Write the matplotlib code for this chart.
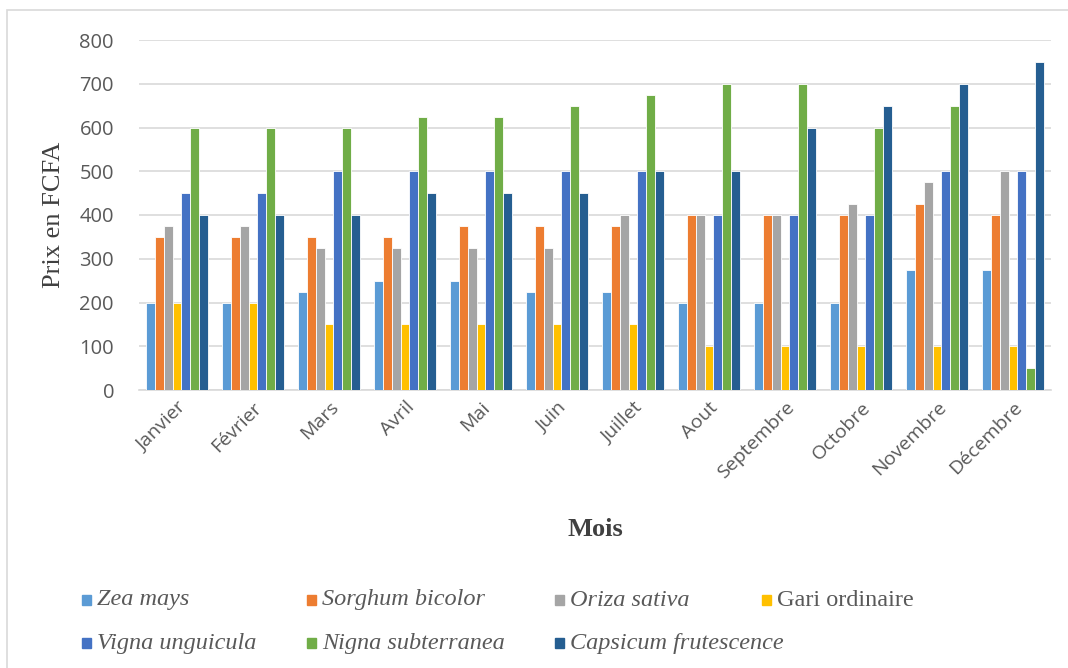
import matplotlib.pyplot as plt
import numpy as np
from matplotlib.patches import Rectangle

mois = ["Janvier", "Février", "Mars", "Avril", "Mai", "Juin", "Juillet",
        "Aout", "Septembre", "Octobre", "Novembre", "Décembre"]

zea_mays = [200, 200, 225, 250, 250, 225, 225, 200, 200, 200, 275, 275]
sorghum_bicolor = [350, 350, 350, 350, 375, 375, 375, 400, 400, 400, 425, 400]
oriza_sativa = [375, 375, 325, 325, 325, 325, 400, 400, 400, 425, 475, 500]
gari_ordinaire = [200, 200, 150, 150, 150, 150, 150, 100, 100, 100, 100, 100]
vigna_unguicula = [450, 450, 500, 500, 500, 500, 500, 400, 400, 400, 500, 500]
nigna_subterranea = [600, 600, 600, 625, 625, 650, 675, 700, 700, 600, 650, 50]
capsicum_frutescence = [400, 400, 400, 450, 450, 450, 500, 500, 600, 650, 700, 750]

series = [
    ("Zea mays", zea_mays, "#5B9BD5", True),
    ("Sorghum bicolor", sorghum_bicolor, "#ED7D31", True),
    ("Oriza sativa", oriza_sativa, "#A5A5A5", True),
    ("Gari ordinaire", gari_ordinaire, "#FFC000", False),
    ("Vigna unguicula", vigna_unguicula, "#4472C4", True),
    ("Nigna subterranea", nigna_subterranea, "#70AD47", True),
    ("Capsicum frutescence", capsicum_frutescence, "#255E91", True),
]

# positions de la légende (pixels, comme dans Word)
leg_x = [80, 305, 553, 760, 80, 305, 553]
leg_y = [600, 600, 600, 600, 643, 643, 643]

W, H = 1068, 668
fig = plt.figure(figsize=(W / 100, H / 100), dpi=100)
ax = fig.add_axes([139 / W, 1 - 390 / H, (1051 - 139) / W, 350 / H])

# cadre gris autour du graphique
fig.patches.append(Rectangle((7 / W, -0.1), 1.2, 1 - 10 / H + 0.1,
                             transform=fig.transFigure, fill=False,
                             edgecolor="#D9D9D9", linewidth=1.2))

x = np.arange(len(mois))
w = 0.115
for i, (name, vals, col, ital) in enumerate(series):
    ax.bar(x + (i - 3) * w, vals, width=w, color=col, label=name,
           edgecolor="white", linewidth=0.6, zorder=3)

ax.set_xlim(-0.5, len(mois) - 0.5)
ax.set_ylim(0, 800)
ax.set_yticks(range(0, 801, 100))
ax.yaxis.grid(True, color="#D9D9D9", linewidth=1.2, zorder=0)
for s in ["top", "right", "left"]:
    ax.spines[s].set_visible(False)
ax.spines["bottom"].set_color("#D9D9D9")
ax.spines["bottom"].set_linewidth(1.2)
ax.tick_params(length=0, colors="#595959")
ax.tick_params(axis="y", labelsize=14.5, pad=18)
ax.tick_params(axis="x", labelsize=14, pad=6)
ax.set_xticks(x)
ax.set_xticklabels(mois, rotation=45, ha="right", rotation_mode="anchor",
                   family="Open Sans")
for t in ax.get_yticklabels():
    t.set_family("Open Sans")

ax.set_ylabel("Prix en FCFA", family="Liberation Serif", fontsize=19,
              color="#404040", labelpad=10)
ax.set_xlabel("Mois", family="Liberation Serif", fontsize=19,
              fontweight="bold", color="#404040", labelpad=26)

# légende dessinée à la main pour garder les positions de l'original
for (name, vals, col, ital), lx, ly in zip(series, leg_x, leg_y):
    fig.patches.append(Rectangle((lx / W + 2 / W, 1 - (ly + 5) / H), 9 / W, 10 / H,
                                 transform=fig.transFigure, color=col))
    fig.text((lx + 17) / W, 1 - ly / H, name, family="Liberation Serif",
             style="italic" if ital else "normal", fontsize=17.5,
             color="#595959", va="center", ha="left")

fig.savefig("out.png", dpi=100)
